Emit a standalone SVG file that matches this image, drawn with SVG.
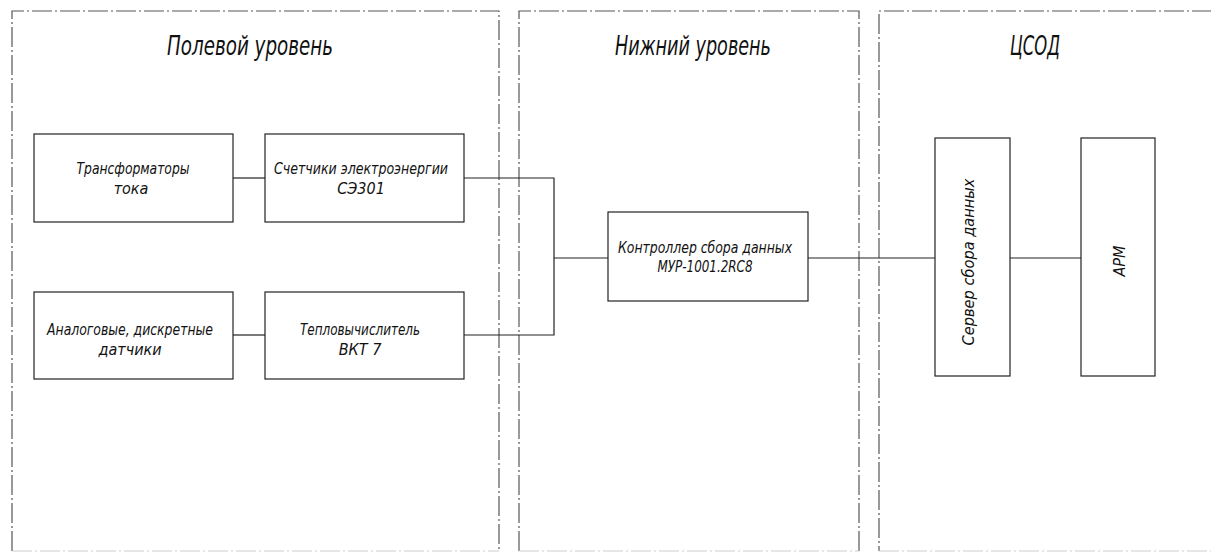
<svg xmlns="http://www.w3.org/2000/svg" width="1211" height="553" viewBox="0 0 1211 553">
<style>
.frame{fill:none;stroke:#555;stroke-width:1.2;stroke-dasharray:20 3 2 3}
.faint{fill:none;stroke:#ccc;stroke-width:1;stroke-dasharray:20 3 2 3}
.box{fill:#fff;stroke:#222;stroke-width:1.2}
.wire{fill:none;stroke:#222;stroke-width:1.2}
text{font-family:"Liberation Sans Narrow","DejaVu Sans Condensed","Liberation Sans",sans-serif;font-style:italic;fill:#111;text-anchor:middle}
.t{font-size:27px}
.l{font-size:16px}
</style>
<rect width="1211" height="553" fill="#fff"/>
<g id="zones">
<path class="frame" d="M12 551 V11 H499 V551"/>
<path class="frame" d="M519 551 V11 H859 V551"/>
<path class="frame" d="M1212 11 H879 V551"/>
<path class="faint" d="M12 551 H499 M519 551 H859 M879 551 H1211"/>
<text class="t" x="250" y="55" textLength="166" lengthAdjust="spacingAndGlyphs">Полевой уровень</text>
<text class="t" x="693" y="55" textLength="156" lengthAdjust="spacingAndGlyphs">Нижний уровень</text>
<text class="t" x="1035" y="55" textLength="50" lengthAdjust="spacingAndGlyphs">ЦСОД</text>
</g>
<g id="connectors">
<path class="wire" d="M233 178 H265"/>
<path class="wire" d="M233 335 H265"/>
<path class="wire" d="M464 178 H554 V335 H464"/>
<path class="wire" d="M554 258 H608"/>
<path class="wire" d="M808 258 H935"/>
<path class="wire" d="M1010 258 H1081"/>
</g>
<g id="n1"><rect class="box" x="34" y="134" width="199" height="88"/>
<text class="l" x="133" y="174" textLength="113" lengthAdjust="spacingAndGlyphs">Трансформаторы</text>
<text class="l" x="131" y="194">тока</text></g>
<g id="n2"><rect class="box" x="265" y="134" width="199" height="88"/>
<text class="l" x="361" y="174" textLength="174" lengthAdjust="spacingAndGlyphs">Счетчики электроэнергии</text>
<text class="l" x="361" y="194">СЭ301</text></g>
<g id="n3"><rect class="box" x="34" y="292" width="199" height="87"/>
<text class="l" x="130" y="335" textLength="166" lengthAdjust="spacingAndGlyphs">Аналоговые, дискретные</text>
<text class="l" x="130" y="355">датчики</text></g>
<g id="n4"><rect class="box" x="265" y="292" width="199" height="87"/>
<text class="l" x="360" y="335" textLength="120" lengthAdjust="spacingAndGlyphs">Тепловычислитель</text>
<text class="l" x="360" y="355">ВКТ 7</text></g>
<g id="n5"><rect class="box" x="608" y="212" width="200" height="89"/>
<text class="l" x="705" y="253" textLength="174" lengthAdjust="spacingAndGlyphs">Контроллер сбора данных</text>
<text class="l" x="705" y="272" textLength="95" lengthAdjust="spacingAndGlyphs">МУР-1001.2RC8</text></g>
<g id="n6"><rect class="box" x="935" y="138" width="75" height="238"/>
<text class="l" transform="translate(974 262) rotate(-90)" textLength="167" lengthAdjust="spacingAndGlyphs">Сервер сбора данных</text></g>
<g id="n7"><rect class="box" x="1081" y="138" width="74" height="238"/>
<text class="l" transform="translate(1125 261) rotate(-90)">АРМ</text></g>
</svg>
